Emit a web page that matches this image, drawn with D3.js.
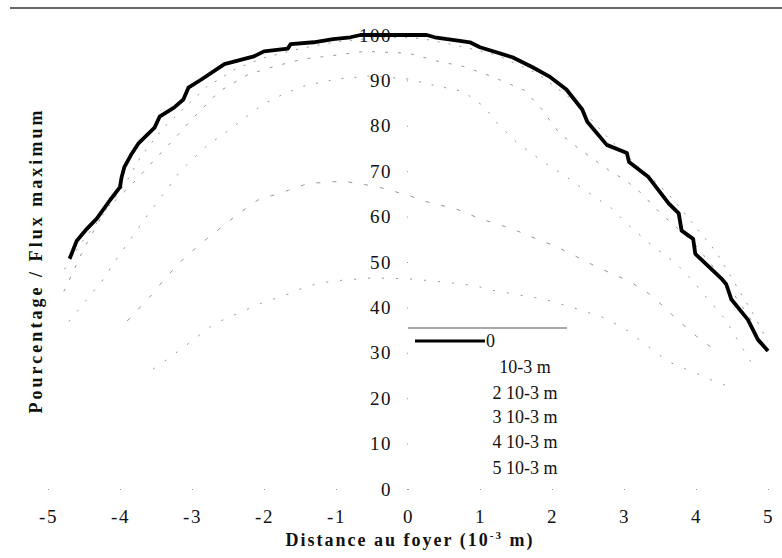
<!DOCTYPE html>
<html>
<head>
<meta charset="utf-8">
<script src="https://cdn.jsdelivr.net/npm/d3@7"></script>
<style>
body { margin: 0; background: #fff; }
svg { display: block; font-family: "Liberation Serif", "Times New Roman", serif; }
</style>
</head>
<body>
<svg id="chart" width="782" height="558"></svg>
<script>
// flux profiles, [distance (10^-3 m), % of max flux], one array per defocus
const flux0 = [[-4.70,50.7],[-4.6,54.7],[-4.46,57.3],[-4.32,59.6],[-4.14,63.6],[-4.0,66.5],[-3.98,68.5],[-3.94,70.9],[-3.85,73.5],[-3.74,76.2],[-3.52,79.6],[-3.45,82],[-3.25,84],[-3.12,85.8],[-3.05,88.4],[-2.87,90.2],[-2.55,93.6],[-2.14,95.3],[-2.0,96.4],[-1.67,97],[-1.63,98],[-1.31,98.4],[-1.04,99.1],[-0.8,99.5],[-0.66,100],[0.26,100],[0.37,99.5],[0.72,98.7],[0.86,98.4],[1.0,97.3],[1.45,95.1],[1.73,92.9],[1.96,90.9],[2.2,88],[2.42,83.6],[2.49,80.9],[2.76,75.8],[3.04,74],[3.07,72],[3.34,68.7],[3.62,62.9],[3.76,60.7],[3.8,56.9],[3.96,55.1],[3.99,51.8],[4.35,46.4],[4.42,45.1],[4.49,41.8],[4.72,37.3],[4.86,32.9],[5.0,30.4]];
const flux1 = [[-4.77,48.4],[-4.55,54],[-4.3,59],[-4.1,63.5],[-3.9,68],[-3.7,73.5],[-3.4,79.5],[-3.1,84],[-2.8,88.5],[-2.4,92.5],[-2.0,95],[-1.5,97],[-1.0,98.5],[-0.5,99.3],[0.0,99.5],[0.23,99.1],[0.58,98],[0.79,97.3],[1.23,95.6],[1.8,91.5],[2.3,85.5],[2.8,77],[3.2,71],[3.45,67.5],[3.66,64.2],[3.9,59.6],[4.27,52.4],[4.48,46.9],[4.79,38.7],[5.0,32.4]];
const flux2 = [[-4.78,43.5],[-4.5,53],[-4.21,61.3],[-4.07,63.5],[-3.78,68],[-3.51,72.7],[-3.26,76.9],[-2.98,81.8],[-2.62,87.6],[-2.22,91.3],[-1.83,93.2],[-1.46,94.7],[-1.13,95.3],[-0.6,96.4],[0.0,96],[0.42,94.2],[0.76,93.1],[1.16,90.9],[1.62,87.8],[1.85,83.8],[2.1,78.4],[2.38,74.9],[2.79,70.2],[3.02,68],[3.23,65.3],[3.51,60.7],[3.94,54.7],[4.21,49.5],[4.5,43.5],[4.82,36]];
const flux3 = [[-4.71,36.9],[-4.5,41],[-4.25,45.8],[-4.12,49],[-3.87,54.7],[-3.59,60.9],[-3.35,66],[-3.15,70.2],[-3.05,71.8],[-2.78,75.8],[-2.54,78.4],[-2.02,84.7],[-1.74,86.9],[-1.46,88.7],[-1.0,90.3],[-0.5,91],[0.0,90.3],[0.37,88.9],[0.76,87.6],[1.06,84.2],[1.27,80],[1.52,76.2],[1.92,71.6],[2.17,69.1],[2.44,66],[2.83,61.8],[3.07,58],[3.31,54.7],[3.45,52.9],[3.73,49.6],[3.96,45.8],[4.07,43.6],[4.4,37.5],[4.8,27]];
const flux4 = [[-3.9,37],[-3.54,43.1],[-3.38,46.3],[-3.1,51],[-2.78,55.3],[-2.35,60.7],[-2.09,63.6],[-1.66,65.8],[-1.39,67.3],[-0.9,67.8],[-0.43,66.6],[0.0,64.7],[0.33,62.9],[0.65,61.8],[0.99,59.6],[1.45,57.3],[1.75,55.3],[2.03,53.6],[2.24,52],[2.51,49.8],[2.75,48],[3.07,45.8],[3.34,43.1],[3.58,39.8],[3.69,38],[4.06,32.9],[4.24,30.9]];
const flux5 = [[-3.54,26.4],[-3.36,28.4],[-3.11,31.3],[-2.69,36.4],[-2.36,38.7],[-2.04,40.9],[-1.63,43.1],[-1.4,44.7],[-1.05,45.8],[-0.5,46.5],[0.0,46.3],[0.5,45.6],[0.97,44.7],[1.09,44],[1.89,41.8],[2.24,40.2],[2.68,38],[2.82,36.9],[3.07,34.7],[3.34,31.3],[3.62,28],[4.0,25.5],[4.27,23.6],[4.49,22.4]];

const legendLabels = ["0", "10-3 m", "2 10-3 m", "3 10-3 m", "4 10-3 m", "5 10-3 m"];
const xTicks = [-5,-4,-3,-2,-1,0,1,2,3,4,5];
const yTicks = [0,10,20,30,40,50,60,70,80,90,100];

const series = [flux0, flux1, flux2, flux3, flux4, flux5];
const dashes = [null, "2 9", "3 10", "2 11", "4 12", "2 12"];

const svg = d3.select("#chart");

const x = d3.scaleLinear().domain([-5, 5]).range([48, 768]);
const y = d3.scaleLinear().domain([0, 100]).range([489, 35]);

// rule across the top of the scan
svg.append("line")
    .attr("x1", 10).attr("x2", 782)
    .attr("y1", 8).attr("y2", 8)
    .attr("stroke", "#333").attr("stroke-width", 1.5);

// y axis sits at x = 0, labels in the middle of the plot
const yAxis = svg.append("g")
    .attr("transform", `translate(${x(0)},0)`)
    .call(d3.axisLeft(y).tickValues(yTicks).tickSize(1).tickPadding(15));

const xAxis = svg.append("g")
    .attr("transform", `translate(0,${y(0)})`)
    .call(d3.axisBottom(x).tickValues(xTicks).tickFormat(d => String(d)).tickSize(1).tickPadding(20));

[yAxis, xAxis].forEach(g => {
    g.select(".domain").remove();
    g.selectAll(".tick line").attr("stroke", "#999");
    g.selectAll(".tick text")
        .attr("fill", "#111")
        .style("font-family", "'Liberation Serif', serif")
        .style("font-size", "19px")
        .style("letter-spacing", "1.5px");
});

const line = d3.line().x(d => x(d[0])).y(d => y(d[1]));

// faint defocused profiles first, the focus curve on top
svg.selectAll(".faint")
    .data(series.slice(1))
    .join("path")
    .attr("class", "faint")
    .attr("d", line)
    .attr("fill", "none")
    .attr("stroke", "#8a8a8a")
    .attr("stroke-width", 0.9)
    .attr("stroke-dasharray", (d, i) => dashes[i + 1]);

svg.append("path")
    .datum(flux0)
    .attr("d", line)
    .attr("fill", "none")
    .attr("stroke", "#000")
    .attr("stroke-width", 3.8)
    .attr("stroke-linejoin", "round");

// legend (only the focus sample survived in the scan)
const leg = svg.append("g");
leg.append("line")
    .attr("x1", 408).attr("x2", 567)
    .attr("y1", 328).attr("y2", 328)
    .attr("stroke", "#555").attr("stroke-width", 1.2);

const rowY = [341, 367, 393, 417, 442, 468];
leg.append("line")
    .attr("x1", 415).attr("x2", 485)
    .attr("y1", rowY[0]).attr("y2", rowY[0])
    .attr("stroke", "#000")
    .attr("stroke-width", 3);

leg.selectAll(".lab")
    .data(legendLabels)
    .join("text")
    .attr("class", "lab")
    .attr("x", (d, i) => i === 0 ? 486 : 525)
    .attr("y", (d, i) => rowY[i])
    .attr("dy", "0.35em")
    .attr("text-anchor", (d, i) => i === 0 ? "start" : "middle")
    .style("font-size", "18px")
    .attr("fill", "#111")
    .text(d => d);

// axis titles
svg.append("text")
    .attr("transform", "translate(42,262) rotate(-90)")
    .attr("text-anchor", "middle")
    .attr("textLength", 303)
    .attr("lengthAdjust", "spacing")
    .style("font-size", "18px")
    .style("font-weight", "bold")
    .attr("fill", "#111")
    .text("Pourcentage / Flux maximum");

const xt = svg.append("text")
    .attr("x", 410).attr("y", 546)
    .attr("text-anchor", "middle")
    .style("font-size", "18px")
    .style("font-weight", "bold")
    .style("letter-spacing", "2px")
    .attr("fill", "#111");
xt.append("tspan").text("Distance au foyer (10");
xt.append("tspan").attr("dy", -7).style("font-size", "11px").text("-3");
xt.append("tspan").attr("dy", 7).text(" m)");
</script>
</body>
</html>
